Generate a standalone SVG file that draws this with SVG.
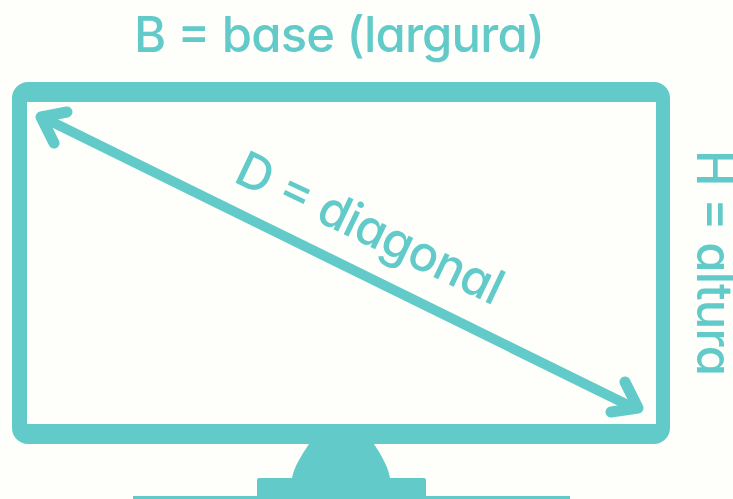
<svg xmlns="http://www.w3.org/2000/svg" width="733" height="499" viewBox="0 0 733 499">
<style>
.t{font-family:"Inter","Lato","Liberation Sans",sans-serif;fill:#62cbc9;font-size:49px;font-weight:500;font-feature-settings:"cv11" 1}
.l{fill:none;stroke:#62cbc9;stroke-linecap:round;stroke-linejoin:round}
</style>
<rect width="733" height="499" fill="#fefffa"/>
<g id="monitor">
<path fill-rule="evenodd" fill="#62cbc9" d="M28 82H654A16 16 0 0 1 670 98V428A16 16 0 0 1 654 444H28A16 16 0 0 1 12 428V98A16 16 0 0 1 28 82ZM27 102V424H656V102Z"/>
<path d="M309 444H374C382 456 388 467 390 478H292C294 467 301 456 309 444Z" fill="#62cbc9"/>
<rect x="257" y="478" width="169" height="21" rx="2" fill="#62cbc9"/>
<rect x="133" y="496" width="437" height="3" fill="#62cbc9"/>
</g>
<g id="connectors">
<path class="l" stroke-width="10" d="M44 118L634 408"/>
<path class="l" stroke-width="11" d="M67 112L41 117L54 143M625 382L638 408L611 412"/>
</g>
<g id="label-base"><text class="t" x="134" y="52" textLength="411" lengthAdjust="spacing">B = base (largura)</text></g>
<g id="label-diagonal"><text class="t" transform="translate(232 181) rotate(25.500)" textLength="290" lengthAdjust="spacing">D = diagonal</text></g>
<g id="label-altura"><text class="t" transform="translate(697 150) rotate(90)" textLength="226" lengthAdjust="spacing">H = altura</text></g>
</svg>
